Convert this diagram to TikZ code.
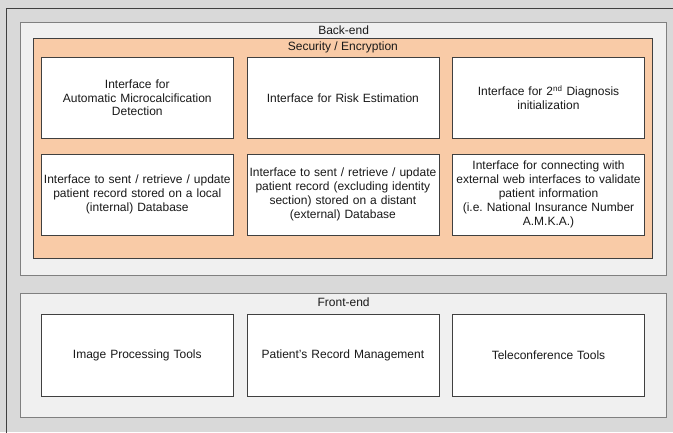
\documentclass[tikz,border=0pt]{standalone}
\usepackage{fontspec}
\setmainfont{Liberation Sans}
\usepackage{xcolor}
\usetikzlibrary{positioning}

\definecolor{outergray}{HTML}{D9D9D9}
\definecolor{panelgray}{HTML}{F0F0F0}
\definecolor{peach}{HTML}{F9CBA7}
\definecolor{edgedark}{HTML}{404040}
\definecolor{edgegray}{HTML}{808080}

\frenchspacing

\begin{document}
\begin{tikzpicture}[
    x=1pt, y=-1pt,
    node distance=15pt and 13pt,
    font=\fontsize{12}{13.8}\selectfont,
    panel/.style={draw=edgegray, line width=1.2pt, fill=panelgray, anchor=north west, inner sep=0pt},
    module/.style={draw=edgedark, line width=0.6pt, fill=white, minimum width=192pt, minimum height=81pt,
                   text width=190pt, align=center, inner sep=0pt, text=black!90},
    caption/.style={inner sep=0pt, text=black!90}
]
\useasboundingbox (0,0) rectangle (673,432);

% outer background
\fill[outergray] (0,0) rectangle (673,432);
\draw[edgedark, line width=0.8pt] (6,440) |- (680,8);

% Back-end
\node[panel, minimum width=646pt, minimum height=253pt] (backend) at (20,22) {};
\node[caption] (backendlabel) at ([yshift=-8pt]backend.north) {Back-end};

\node[panel, draw=edgedark, line width=0.7pt, fill=peach, minimum width=619pt, minimum height=220pt] (security) at (33,38) {};
\node[caption] (securitylabel) at ([yshift=-9pt]security.north) {Security / Encryption};

\node[module, anchor=north west] (detection) at (41,57) {
    Interface for\\
    Automatic Microcalcification\\
    Detection
};
\node[module, right=of detection] (risk) {
    Interface for Risk Estimation
};
\node[module, right=of risk] (diagnosis) {
    Interface for 2\textsuperscript{nd} Diagnosis\\
    initialization
};

\node[module, below=of detection] (localdb) {
    Interface to sent / retrieve / update\\
    patient record stored on a local\\
    (internal) Database
};
\node[module, right=of localdb] (distantdb) {
    Interface to sent / retrieve / update\\
    patient record (excluding identity\\
    section) stored on a distant\\
    (external) Database
};
\node[module, right=of distantdb] (webif) {
    Interface for connecting with\\
    external web interfaces to validate\\
    patient information\\
    (i.e.\ National Insurance Number\\
    A.M.K.A.)
};

% Front-end
\node[panel, minimum width=646pt, minimum height=124pt] (frontend) at (20,293) {};
\node[caption] (frontendlabel) at ([yshift=-9pt]frontend.north) {Front-end};

\node[module, anchor=north west, minimum height=82pt] (imaging) at (41,314) {
    Image Processing Tools
};
\node[module, minimum height=82pt, right=of imaging] (record) {
    Patient's Record Management
};
\node[module, minimum height=82pt, right=of record] (teleconf) {
    Teleconference Tools
};

\end{tikzpicture}
\end{document}
